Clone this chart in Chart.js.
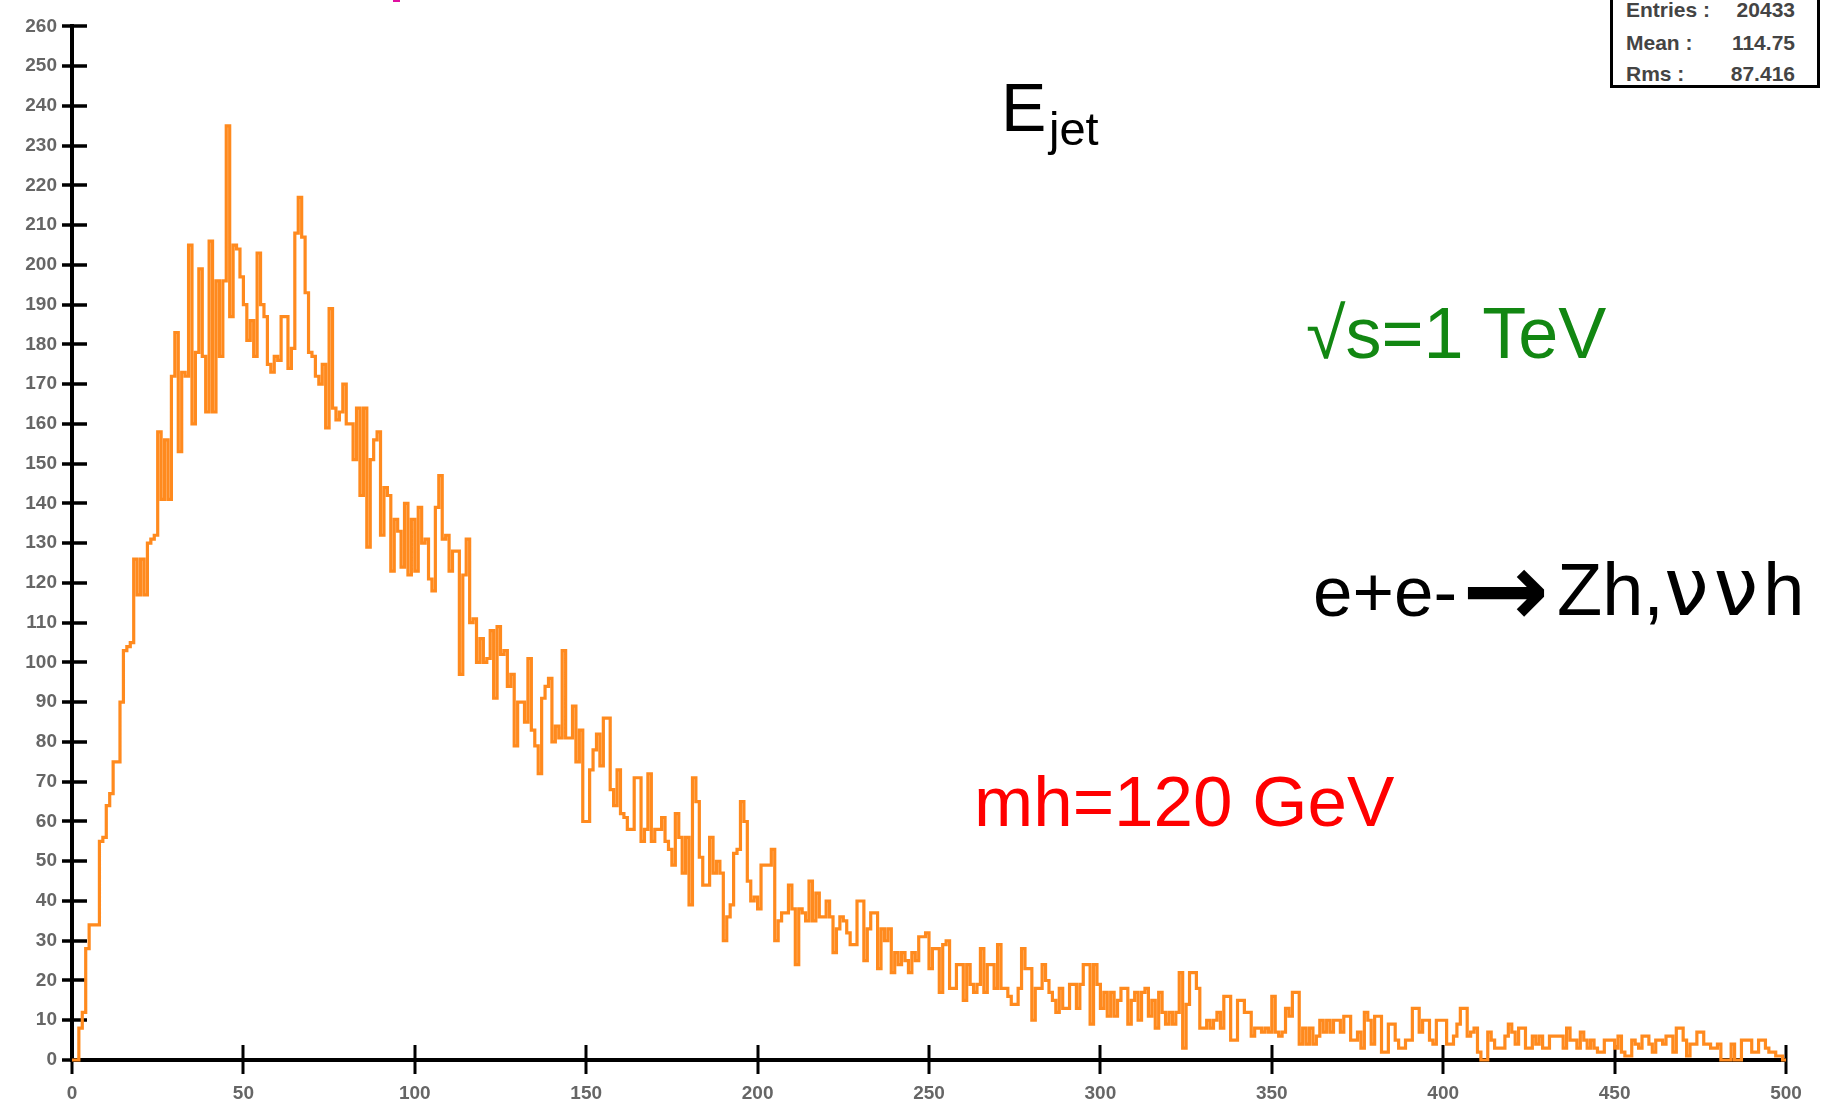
<!DOCTYPE html>
<html lang="en">
<head>
<meta charset="UTF-8">
<title>E_jet</title>
<script src="https://cdn.jsdelivr.net/npm/chart.js"></script>
<style>
  body { margin: 0; background: #fff; }
  #wrap { position: relative; width: 1830px; height: 1104px; overflow: hidden; font-family: "Liberation Sans", Arial, sans-serif; }
  #myChart { position: absolute; left: 0; top: 0; }
  .lbl { position: absolute; white-space: nowrap; line-height: 1; }
  #stats { position: absolute; left: 1610px; top: -4px; width: 204px; height: 86px; border: 3px solid #000; background: #fff; }
  #stats div { position: absolute; font-size: 21px; font-weight: bold; color: #444; line-height: 1; }
</style>
</head>
<body>
<div id="wrap">
  <canvas id="myChart" width="1830" height="1104"></canvas>
  <div class="lbl" style="left:393px;top:0;width:7px;height:2px;background:#e010a0"></div>
  <div class="lbl" style="left:1001px;top:73px;font-size:68px;color:#000">E</div>
  <div class="lbl" style="left:1049px;top:105px;font-size:47px;color:#000">jet</div>
  <div class="lbl" style="left:1306px;top:297px;font-size:72px;color:#128712">√s=1 TeV</div>
  <div class="lbl" style="left:1313px;top:556px;font-size:71px;color:#000">e+e-</div>
  <div class="lbl" style="left:1462px;top:538px;font-size:104px;font-family:'DejaVu Sans';font-weight:bold;color:#000">→</div>
  <div class="lbl" style="left:1557px;top:553px;font-size:74px;color:#000">Zh,<span style="font-family:'DejaVu Sans';font-size:80px;letter-spacing:5px;line-height:0">νν</span>h</div>
  <div class="lbl" style="left:974px;top:766px;font-size:71px;color:#ff0000">mh=120 GeV</div>
  <div id="stats">
    <div style="left:13px;top:0px">Entries :</div><div style="right:22px;top:0px">20433</div>
    <div style="left:13px;top:33px">Mean :</div><div style="right:22px;top:33px">114.75</div>
    <div style="left:13px;top:64px">Rms :</div><div style="right:22px;top:64px">87.416</div>
  </div>
</div>

<script>
// E_jet histogram, 1 GeV bins from 0 to 500
const counts = [
  0, 0, 8, 12, 28, 34, 34, 34, 55, 56, 64, 67, 75, 75, 90, 103, 104, 105, 126, 117,
  126, 117, 130, 131, 132, 158, 141, 156, 141, 172, 183, 153, 173, 172, 205, 160, 178, 199, 177, 163,
  206, 163, 196, 177, 196, 235, 187, 205, 204, 197, 190, 181, 186, 177, 203, 190, 187, 175, 173, 177,
  176, 187, 187, 174, 179, 208, 217, 207, 193, 178, 177, 172, 170, 175, 159, 189, 164, 161, 163, 170,
  160, 160, 151, 164, 142, 164, 129, 151, 156, 158, 132, 144, 142, 123, 136, 133, 124, 140, 122, 136,
  123, 139, 130, 131, 121, 118, 139, 147, 131, 132, 123, 128, 128, 97, 122, 131, 110, 111, 100, 106,
  100, 101, 108, 91, 109, 102, 103, 94, 97, 79, 90, 90, 85, 101, 83, 79, 72, 91, 94, 96,
  80, 84, 81, 103, 81, 81, 89, 75, 83, 60, 60, 73, 78, 82, 74, 86, 86, 68, 64, 73,
  62, 61, 58, 58, 71, 71, 55, 58, 72, 55, 58, 58, 61, 55, 53, 49, 62, 56, 47, 56,
  39, 71, 65, 51, 44, 44, 56, 47, 50, 47, 30, 36, 39, 52, 53, 65, 60, 45, 40, 41,
  38, 49, 49, 49, 53, 30, 35, 37, 37, 44, 38, 24, 38, 37, 35, 45, 35, 42, 36, 36,
  40, 36, 27, 33, 36, 35, 32, 29, 29, 40, 40, 25, 33, 37, 37, 23, 33, 30, 33, 22,
  27, 24, 27, 25, 22, 27, 25, 31, 31, 32, 23, 28, 28, 17, 29, 30, 18, 18, 24, 24,
  15, 24, 19, 17, 19, 28, 17, 24, 24, 18, 29, 18, 18, 16, 14, 14, 18, 28, 23, 23,
  10, 18, 18, 24, 20, 17, 15, 12, 18, 13, 13, 19, 19, 13, 19, 24, 24, 9, 24, 19,
  13, 17, 11, 17, 11, 15, 18, 18, 9, 15, 17, 10, 17, 18, 11, 15, 8, 17, 12, 9,
  12, 9, 12, 22, 3, 14, 22, 22, 18, 8, 8, 10, 8, 10, 12, 8, 16, 16, 5, 5,
  15, 15, 12, 12, 6, 8, 8, 7, 8, 7, 16, 7, 6, 7, 13, 11, 17, 17, 4, 8,
  4, 8, 4, 6, 10, 7, 10, 7, 10, 10, 7, 11, 11, 5, 5, 7, 3, 12, 10, 4,
  11, 11, 2, 2, 9, 9, 5, 3, 3, 5, 5, 13, 13, 7, 10, 10, 5, 4, 10, 10,
  10, 4, 4, 6, 9, 13, 13, 6, 7, 8, 2, 0, 0, 7, 5, 3, 3, 3, 6, 9,
  7, 4, 8, 8, 3, 3, 6, 4, 6, 3, 3, 6, 6, 6, 6, 3, 8, 5, 5, 3,
  7, 5, 3, 5, 3, 2, 2, 5, 5, 5, 3, 6, 2, 1, 1, 5, 4, 3, 6, 6,
  4, 2, 5, 5, 4, 6, 6, 2, 8, 8, 5, 1, 4, 4, 7, 7, 4, 4, 3, 3,
  4, 0, 0, 0, 4, 0, 0, 5, 5, 5, 2, 2, 5, 5, 3, 2, 2, 1, 1, 0
];
const binWidth = 1;
const xTickValues = [0, 50, 100, 150, 200, 250, 300, 350, 400, 450, 500];
const yTickValues = [0, 10, 20, 30, 40, 50, 60, 70, 80, 90, 100, 110, 120, 130,
  140, 150, 160, 170, 180, 190, 200, 210, 220, 230, 240, 250, 260];

// left edge of every bin, plus the closing edge
const points = counts.map((c, i) => ({ x: i * binWidth, y: c }));
points.push({ x: counts.length * binWidth, y: counts[counts.length - 1] });

// tick marks crossing the axes
const tickMarks = {
  id: 'tickMarks',
  beforeDatasetsDraw(chart) {
    const ctx = chart.ctx;
    const xs = chart.scales.x, ys = chart.scales.y;
    const a = chart.chartArea;
    ctx.save();
    ctx.strokeStyle = '#000';
    ctx.lineWidth = 3.5;
    yTickValues.forEach(v => {
      const y = Math.round(ys.getPixelForValue(v));
      ctx.beginPath();
      ctx.moveTo(a.left - 10, y);
      ctx.lineTo(a.left + 15, y);
      ctx.stroke();
    });
    ctx.lineWidth = 3;
    xTickValues.forEach(v => {
      const x = Math.round(xs.getPixelForValue(v));
      ctx.beginPath();
      ctx.moveTo(x, a.bottom - 15);
      ctx.lineTo(x, a.bottom + 14);
      ctx.stroke();
    });
    ctx.restore();
  }
};

const tickFont = { family: 'Liberation Sans', size: 19, weight: 'bold' };

const ctx = document.getElementById('myChart').getContext('2d');
const myChart = new Chart(ctx, {
  type: 'line',
  data: {
    datasets: [{
      label: 'Ejet',
      data: points,
      stepped: 'before',
      borderColor: '#ff8a1e',
      borderWidth: 3.2,
      pointRadius: 0,
      fill: false,
      clip: false
    }]
  },
  options: {
    responsive: false,
    devicePixelRatio: 1,
    animation: false,
    layout: { padding: { left: 0, top: 15, right: 44, bottom: 0 } },
    plugins: {
      legend: { display: false },
      tooltip: { enabled: false }
    },
    scales: {
      x: {
        type: 'linear',
        min: 0,
        max: 500,
        afterBuildTicks: s => { s.ticks = xTickValues.map(v => ({ value: v })); },
        afterFit: s => { s.height = 44; },
        grid: { display: false, drawTicks: false },
        border: { display: true, color: '#000', width: 4 },
        ticks: { padding: 22, color: '#666', font: tickFont, maxRotation: 0, autoSkip: false }
      },
      y: {
        type: 'linear',
        min: 0,
        max: 260,
        afterBuildTicks: s => { s.ticks = yTickValues.map(v => ({ value: v })); },
        afterFit: s => { s.width = 72; },
        grid: { display: false, drawTicks: false },
        border: { display: true, color: '#000', width: 4 },
        ticks: { padding: 15, color: '#666', font: tickFont, autoSkip: false }
      }
    }
  },
  plugins: [tickMarks]
});
</script>
</body>
</html>
